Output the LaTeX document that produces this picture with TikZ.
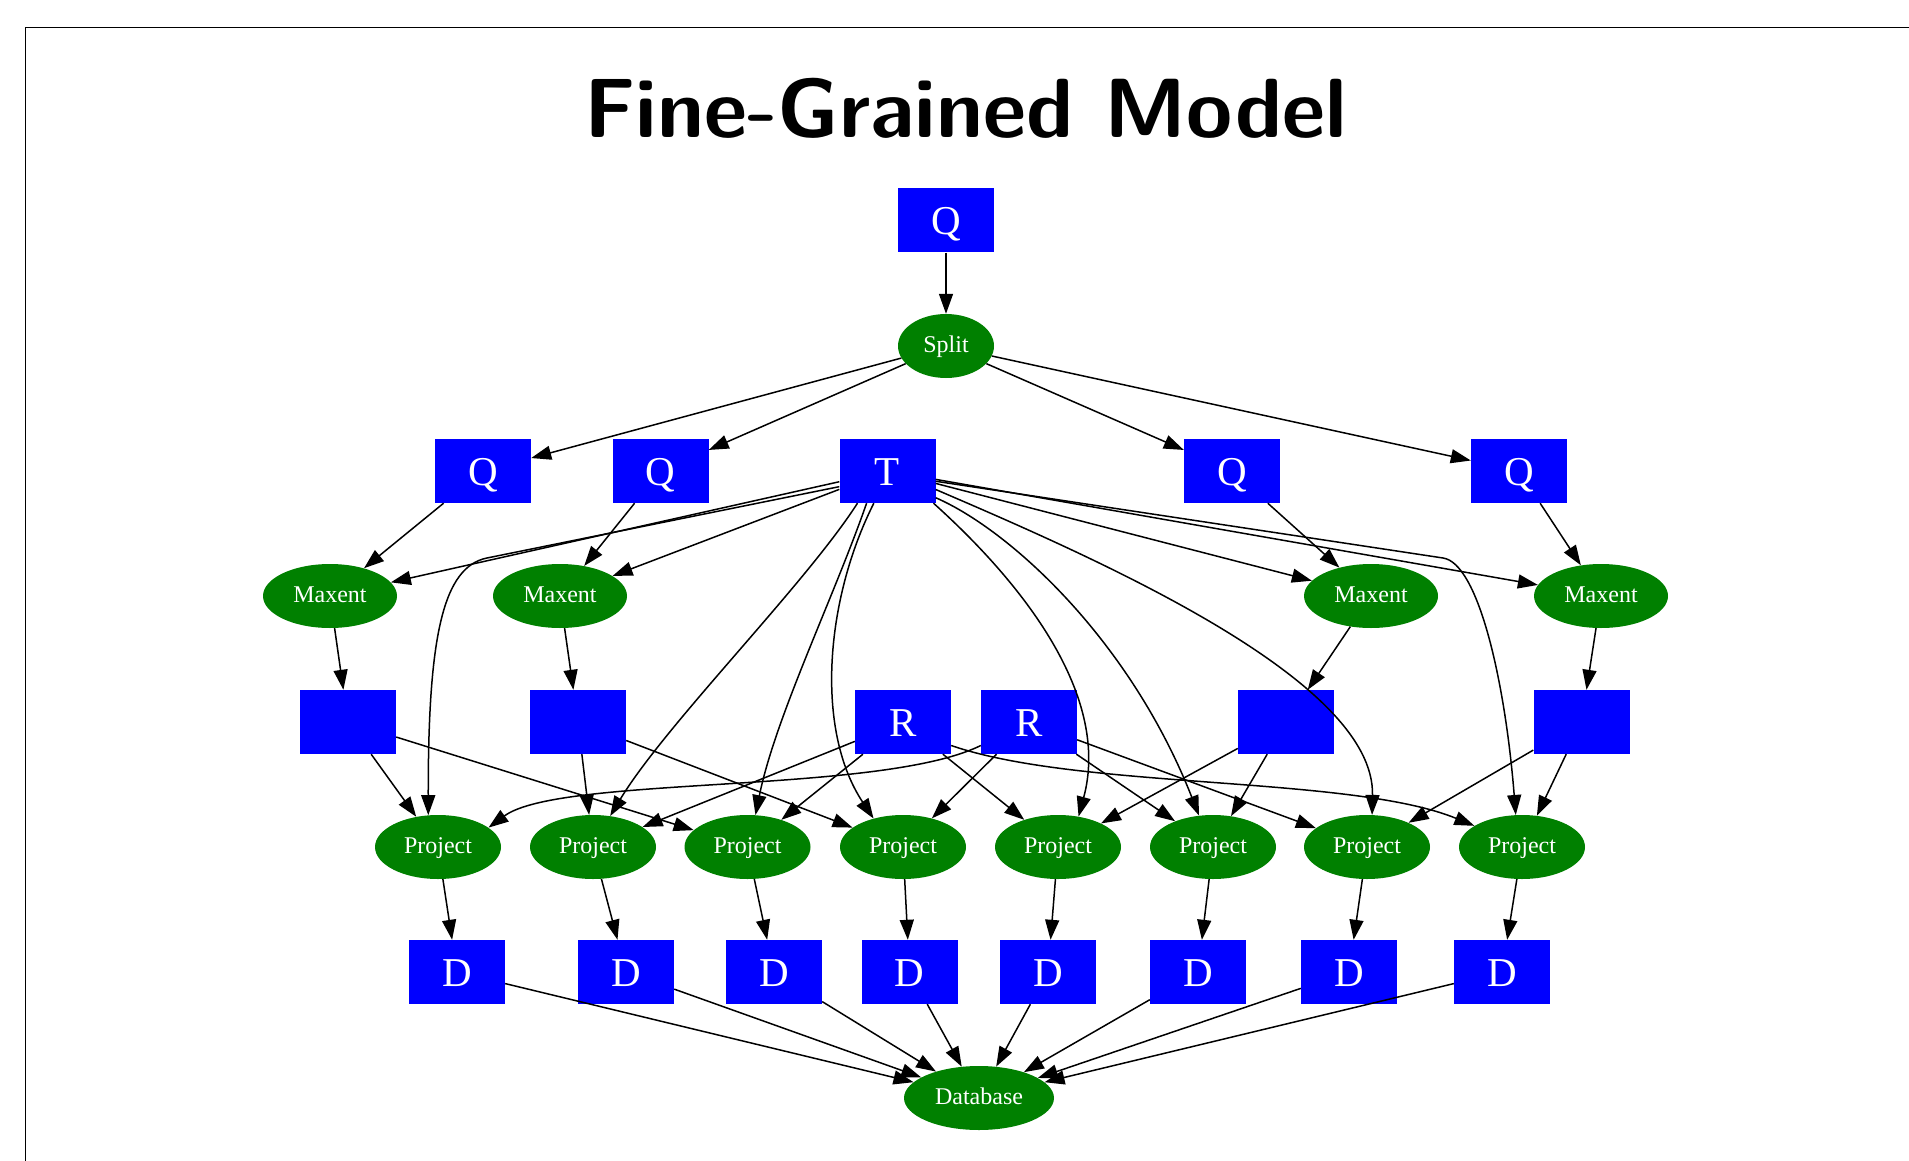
\documentclass[tikz,border=0pt]{standalone}
\usepackage{fontspec}
\setmainfont{Liberation Serif}
\usetikzlibrary{shapes.geometric,arrows.meta}
\definecolor{gvblue}{RGB}{0,0,255}
\definecolor{gvgreen}{RGB}{0,128,0}
\begin{document}
\begin{tikzpicture}[x=1pt,y=-1pt,
  box/.style={rectangle, fill=gvblue, draw=none, minimum width=96pt, minimum height=64pt,
    inner sep=0pt, text=white, font=\fontsize{41}{41}\selectfont, text height=30.5pt, text depth=2pt},
  oval/.style={ellipse, fill=gvgreen, draw=none, minimum height=64pt, inner sep=0pt,
    text=white, font=\fontsize{24}{24}\selectfont, text height=14.4pt, text depth=2.4pt},
  edge/.style={draw=black, line width=1.5pt, -{Triangle[length=20pt,width=14pt]}},
]
\path[use as bounding box] (0,0) rectangle (1909,1161);
\draw[line width=1.6pt] (25.5,1161) -- (25.5,27.5) -- (1909,27.5);

\node[anchor=base, font=\sffamily\bfseries\fontsize{84}{92}\selectfont] (title) at (965.5,137.5) {Fine-Grained Model};

% nodes
\node[box] (q0) at (946,220.5) {Q};
\node[oval, minimum width=96pt] (split) at (946,346) {Split};

\node[box] (q1) at (483,471) {Q};
\node[box] (q2) at (660.5,471) {Q};
\node[box] (t)  at (887.5,471) {T};
\node[box] (q3) at (1232,471) {Q};
\node[box] (q4) at (1519,471) {Q};

\node[oval, minimum width=134pt] (m1) at (330,596) {Maxent};
\node[oval, minimum width=134pt] (m2) at (560,596) {Maxent};
\node[oval, minimum width=134pt] (m3) at (1371,596) {Maxent};
\node[oval, minimum width=134pt] (m4) at (1601,596) {Maxent};

\node[box] (b1) at (348,722) {};
\node[box] (b2) at (578,722) {};
\node[box] (r1) at (903,722) {R};
\node[box] (r2) at (1029,722) {R};
\node[box] (b3) at (1286,722) {};
\node[box] (b4) at (1581.5,722) {};

\foreach \i/\x in {1/438,2/593,3/747.5,4/903,5/1058,6/1213,7/1367,8/1522}
  \node[oval, minimum width=126pt] (p\i) at (\x,847) {Project};

\foreach \i/\x in {1/457,2/626,3/774,4/909.5,5/1048,6/1198,7/1349,8/1502}
  \node[box] (d\i) at (\x,972) {D};

\node[oval, minimum width=150pt] (db) at (979,1098) {Database};

% straight edges
\draw[edge] (q0) -- (split);
\foreach \n in {q1,q2,q3,q4} \draw[edge] (split) -- (\n);
\draw[edge] (q1) -- (m1);
\draw[edge] (q2) -- (m2);
\draw[edge] (q3) -- (m3);
\draw[edge] (q4) -- (m4);
\foreach \n in {m1,m2,m3,m4} \draw[edge] (t) -- (\n);
\draw[edge] (m1) -- (b1);
\draw[edge] (m2) -- (b2);
\draw[edge] (m3) -- (b3);
\draw[edge] (m4) -- (b4);
\draw[edge] (b1) -- (p1);
\draw[edge] (b1) -- (p3);
\draw[edge] (b2) -- (p2);
\draw[edge] (b2) -- (p4);
\draw[edge] (r1) -- (p2);
\draw[edge] (r1) -- (p3);
\draw[edge] (r1) -- (p5);
\draw[edge] (r2) -- (p4);
\draw[edge] (r2) -- (p6);
\draw[edge] (r2) -- (p7);
\draw[edge] (b3) -- (p5);
\draw[edge] (b3) -- (p6);
\draw[edge] (b4) -- (p7);
\draw[edge] (b4) -- (p8);
\foreach \i in {1,...,8} {
  \draw[edge] (p\i) -- (d\i);
  \draw[edge] (d\i) -- (db);
}

% curved edges from T
\draw[edge] (t.198) -- (487,558) .. controls (443,567) and (428,636) .. (p1.107);
\draw[edge] (t.227) .. controls (805,585) and (665,725) .. (p2.61);
\draw[edge] (t.237) .. controls (834,597) and (775,718) .. (p3.76);
\draw[edge] (t.247) .. controls (825,600) and (815,730) .. (p4.136);
\draw[edge] (t.325) .. controls (1030,590) and (1110,700) .. (p5.56);
\draw[edge] (t.331) .. controls (1010,530) and (1130,640) .. (p6.114);
\draw[edge] (t.339) .. controls (1100,560) and (1375,680) .. (p7.81);
\draw[edge] (t.348) -- (1443,558) .. controls (1478,563) and (1505,680) .. (p8.101);

% curved edges from R
\draw[edge] (r1.334) .. controls (1080,790) and (1350,775) .. (p8.156);
\draw[edge] (r2.206) .. controls (880,795) and (560,775) .. (p1.21);
\end{tikzpicture}
\end{document}
